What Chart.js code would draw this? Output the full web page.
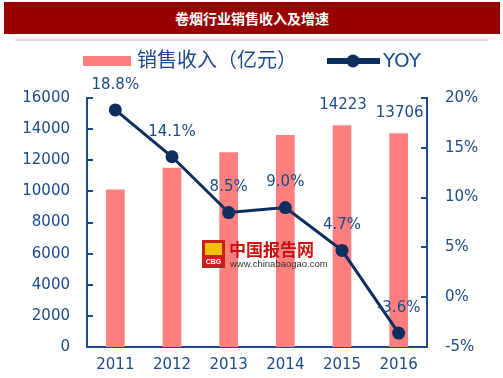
<!DOCTYPE html>
<html>
<head>
<meta charset="utf-8">
<script src="https://cdn.jsdelivr.net/npm/chart.js@4.4.0/dist/chart.umd.min.js"></script>
<style>
  html, body { margin: 0; padding: 0; background: #fff; }
  #wrap { position: relative; width: 503px; height: 378px; overflow: hidden; }
  #title { position: absolute; left: 4px; top: 2px; width: 496px; height: 32px; background: #990000;
    color: #fff; font: bold 14px "Noto Sans CJK SC", sans-serif; line-height: 32px; text-align: center; }
  #rule { position: absolute; left: 15px; top: 39px; width: 473px; height: 2px; background: #dcdcdc; }
  canvas { position: absolute; left: 0; top: 0; }
</style>
</head>
<body>
<div id="wrap">
  <canvas id="c" width="503" height="378"></canvas>
  <div id="title">卷烟行业销售收入及增速</div>
  <div id="rule"></div>
</div>
<script>
const chartTitle = '卷烟行业销售收入及增速';
const years = ['2011', '2012', '2013', '2014', '2015', '2016'];
const revenue = [10100, 11500, 12500, 13600, 14223, 13706];
const revenueLabelShown = [false, false, false, false, true, true];
const yoy = [18.8, 14.1, 8.5, 9.0, 4.7, -3.6];
const revenueLabel = '销售收入（亿元）';
const yoyLabel = 'YOY';
const leftTicks = [0, 2000, 4000, 6000, 8000, 10000, 12000, 14000, 16000];
const rightTicks = [-5, 0, 5, 10, 15, 20];

const BLUE = '#1d4a8a';
const NAVY = '#0c2f5f';
const PINK = '#ff7f7f';
const FONT = '"DejaVu Sans", "Noto Sans CJK SC", sans-serif';

const overlay = {
  id: 'overlay',
  afterDatasetsDraw(chart) {
    const ctx = chart.ctx;
    ctx.save();
    const yL = chart.scales.y, yR = chart.scales.y1, area = chart.chartArea;
    ctx.strokeStyle = BLUE; ctx.lineWidth = 2;
    yL.ticks.forEach(t => { const p = Math.round(yL.getPixelForValue(t.value));
      ctx.beginPath(); ctx.moveTo(area.left, p); ctx.lineTo(area.left + 6, p); ctx.stroke(); });
    yR.ticks.forEach(t => { const p = Math.round(yR.getPixelForValue(t.value));
      ctx.beginPath(); ctx.moveTo(area.right, p); ctx.lineTo(area.right - 6, p); ctx.stroke(); });

    ctx.font = '15px ' + FONT;
    ctx.fillStyle = BLUE;
    ctx.textAlign = 'center';
    ctx.textBaseline = 'middle';
    const barMeta = chart.getDatasetMeta(1);
    barMeta.data.forEach((el, i) => {
      if (revenueLabelShown[i]) ctx.fillText(String(revenue[i]), el.x + 1, el.y - 21);
    });
    const lineMeta = chart.getDatasetMeta(0);
    lineMeta.data.forEach((el, i) => {
      ctx.fillText(yoy[i].toFixed(1) + '%', el.x, el.y - 25);
    });
    ctx.restore();
  },
  afterDraw(chart) {
    const ctx = chart.ctx;
    ctx.save();
    ctx.fillStyle = PINK;
    ctx.fillRect(83, 56, 48, 10);
    ctx.fillStyle = BLUE;
    ctx.font = '20px ' + FONT;
    ctx.textAlign = 'left';
    ctx.textBaseline = 'middle';
    ctx.fillText(revenueLabel, 137, 62);
    ctx.strokeStyle = NAVY; ctx.lineWidth = 6;
    ctx.beginPath(); ctx.moveTo(327, 61); ctx.lineTo(380, 61); ctx.stroke();
    ctx.fillStyle = NAVY;
    ctx.beginPath(); ctx.arc(353, 61, 6.5, 0, Math.PI * 2); ctx.fill();
    ctx.fillStyle = BLUE;
    ctx.fillText(yoyLabel, 383, 62);
    ctx.fillStyle = '#c81e1e';
    ctx.fillRect(202, 240, 23, 28);
    ctx.fillStyle = '#f2c200';
    ctx.fillRect(205, 243, 17, 12);
    ctx.fillStyle = '#fff';
    ctx.font = 'bold 7px "Liberation Sans", sans-serif';
    ctx.textAlign = 'center';
    ctx.fillText('CBG', 213.5, 262);
    ctx.fillStyle = '#cc1111';
    ctx.font = 'bold 17px "Noto Sans CJK SC", sans-serif';
    ctx.textAlign = 'left';
    ctx.fillText('中国报告网', 229, 250);
    ctx.fillStyle = '#333';
    ctx.font = '9.5px "Liberation Sans", sans-serif';
    ctx.fillText('www.chinabaogao.com', 230, 264);
    ctx.restore();
  }
};

new Chart(document.getElementById('c'), {
  data: {
    labels: years,
    datasets: [
      { type: 'line', label: yoyLabel, data: yoy, yAxisID: 'y1', order: 0,
        borderColor: NAVY, backgroundColor: NAVY, borderWidth: 3,
        pointRadius: 6.5, pointBackgroundColor: NAVY, pointBorderWidth: 0, tension: 0 },
      { type: 'bar', label: revenueLabel, data: revenue, yAxisID: 'y', order: 1,
        backgroundColor: PINK, barThickness: 18 }
    ]
  },
  options: {
    responsive: false,
    animation: false,
    devicePixelRatio: 1,
    layout: { padding: { top: 98, bottom: 0, left: 0, right: 0 } },
    plugins: { legend: { display: false }, tooltip: { enabled: false }, title: { display: false } },
    scales: {
      x: {
        grid: { display: false, drawTicks: false },
        border: { display: true, color: BLUE, width: 2 },
        ticks: { color: BLUE, font: { size: 15, family: FONT }, padding: 9 },
        afterFit(s) { s.height = 31; }
      },
      y: {
        position: 'left', min: 0, max: 16000,
        afterBuildTicks(s) { s.ticks = leftTicks.map(v => ({ value: v })); },
        grid: { display: false, drawTicks: false },
        border: { display: true, color: BLUE, width: 2 },
        ticks: { color: BLUE, font: { size: 15, family: FONT }, padding: 17, callback: v => String(v) },
        afterFit(s) { s.width = 87; }
      },
      y1: {
        position: 'right', min: -5, max: 20,
        afterBuildTicks(s) { s.ticks = rightTicks.map(v => ({ value: v })); },
        grid: { display: false, drawTicks: false },
        border: { display: true, color: BLUE, width: 2 },
        ticks: { color: BLUE, font: { size: 15, family: FONT }, padding: 18, callback: v => v + '%' },
        afterFit(s) { s.width = 76; }
      }
    }
  },
  plugins: [overlay]
});
</script>
</body>
</html>
